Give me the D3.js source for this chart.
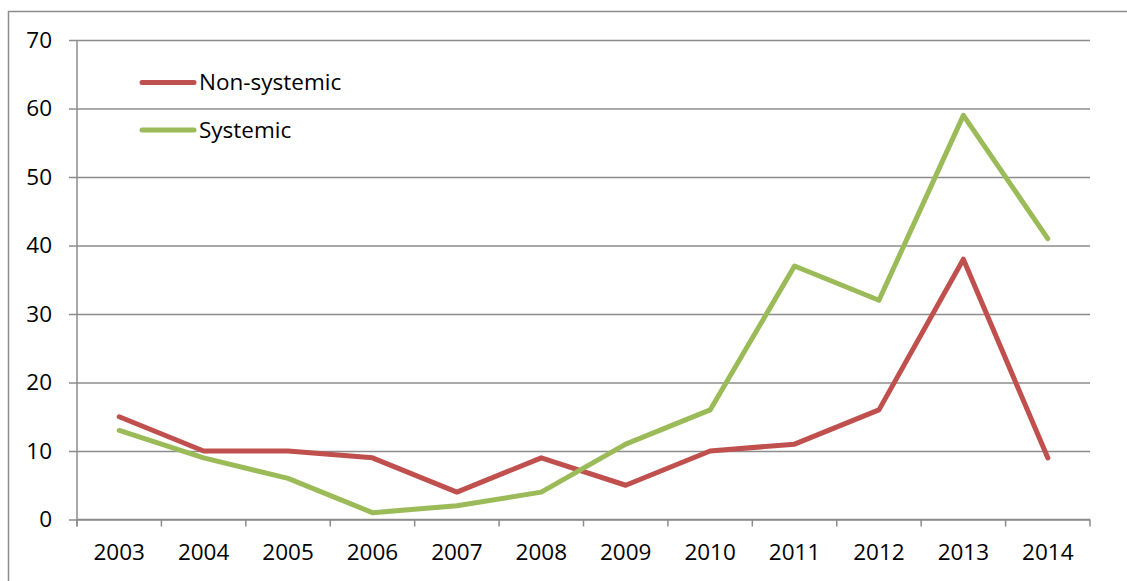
<!DOCTYPE html>
<html>
<head>
<meta charset="utf-8">
<script src="https://cdn.jsdelivr.net/npm/d3@7"></script>
<style>
  html, body { margin: 0; padding: 0; background: #fff; }
  svg { display: block; font-family: "Open Sans", sans-serif; }
</style>
</head>
<body>
<svg id="chart" width="1127" height="581"></svg>
<script>
const years = ["2003","2004","2005","2006","2007","2008","2009","2010","2011","2012","2013","2014"];
const nonSystemic = [15, 10, 10, 9, 4, 9, 5, 10, 11, 16, 38, 9];
const systemic = [13, 9, 6, 1, 2, 4, 11, 16, 37, 32, 59, 41];
const yTicks = [0, 10, 20, 30, 40, 50, 60, 70];
const seriesNames = ["Non-systemic", "Systemic"];
const seriesColors = ["#C0504D", "#9BBB59"];

const svg = d3.select("#chart");
const plotLeft = 77, plotRight = 1090, plotTop = 40, plotBottom = 519.5;
const gridColor = "#8c8c8c";
const fontSize = 22.5;

// outer frame
svg.append("rect")
  .attr("x", 8.5).attr("y", 11.5)
  .attr("width", 1140).attr("height", 600)
  .attr("fill", "none").attr("stroke", "#8c8c8c").attr("stroke-width", 1.5);

const x = d3.scaleBand().domain(years).range([plotLeft, plotRight]);
const y = d3.scaleLinear().domain([0, 70]).range([plotBottom, plotTop]);

// horizontal gridlines with outward ticks
const yAxis = svg.append("g")
  .attr("transform", `translate(${plotLeft},0)`)
  .call(d3.axisLeft(y).tickValues(yTicks).tickSize(-(plotRight - plotLeft)).tickSizeOuter(0).tickPadding(25));
yAxis.select(".domain").remove();
yAxis.selectAll(".tick line")
  .attr("x1", -8)
  .attr("stroke", gridColor).attr("stroke-width", 1.5);
yAxis.selectAll(".tick text")
  .attr("font-size", fontSize).attr("fill", "#000")
  .attr("font-family", "Open Sans, sans-serif");

// vertical axis line
svg.append("line")
  .attr("x1", plotLeft).attr("x2", plotLeft)
  .attr("y1", plotTop).attr("y2", plotBottom + 7)
  .attr("stroke", gridColor).attr("stroke-width", 1.5);

// category axis with boundary ticks
const xAxis = svg.append("g")
  .attr("transform", `translate(0,${plotBottom})`)
  .call(d3.axisBottom(x).tickSize(0).tickPadding(25));
xAxis.select(".domain")
  .attr("stroke", gridColor).attr("stroke-width", 1.5)
  .attr("d", `M${plotLeft},0H${plotRight}`);
xAxis.selectAll(".tick text")
  .attr("font-size", fontSize).attr("fill", "#000")
  .attr("font-family", "Open Sans, sans-serif");
const boundaries = years.map(d => x(d)).concat([x(years[years.length - 1]) + x.bandwidth()]);
xAxis.selectAll(".bound")
  .data(boundaries)
  .join("line")
  .attr("class", "bound")
  .attr("x1", d => d).attr("x2", d => d)
  .attr("y1", 0).attr("y2", 7)
  .attr("stroke", gridColor).attr("stroke-width", 1.5);

// series lines
const line = d3.line()
  .x((d, i) => x(years[i]) + x.bandwidth() / 2)
  .y(d => y(d));

[nonSystemic, systemic].forEach((vals, k) => {
  svg.append("path")
    .datum(vals)
    .attr("d", line)
    .attr("fill", "none")
    .attr("stroke", seriesColors[k])
    .attr("stroke-width", 5)
    .attr("stroke-linejoin", "round")
    .attr("stroke-linecap", "round");
});

// legend
const legend = svg.append("g");
seriesNames.forEach((name, k) => {
  const ly = 82.5 + k * 47.5;
  legend.append("line")
    .attr("x1", 142).attr("x2", 194)
    .attr("y1", ly).attr("y2", ly)
    .attr("stroke", seriesColors[k]).attr("stroke-width", 5)
    .attr("stroke-linecap", "round");
  legend.append("text")
    .attr("x", 199).attr("y", ly)
    .attr("dy", "0.35em")
    .attr("font-size", fontSize)
    .attr("fill", "#000")
    .text(name);
});
</script>
</body>
</html>
